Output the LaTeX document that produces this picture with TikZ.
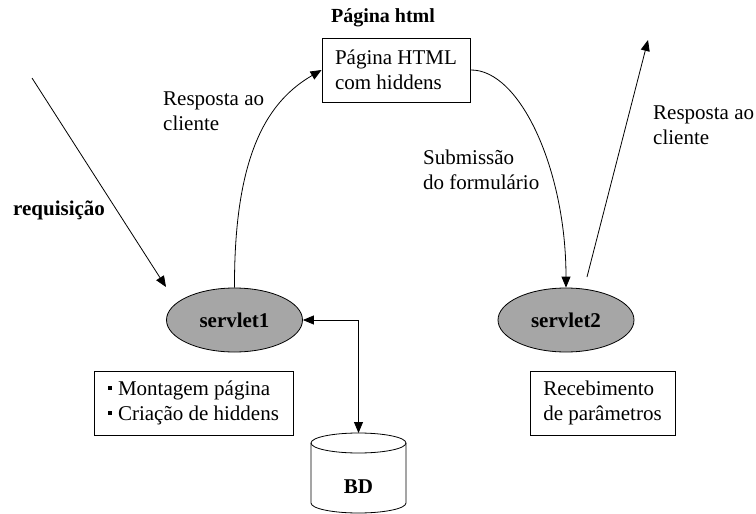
\documentclass[tikz,border=0pt]{standalone}
\usepackage{fontspec}
\setmainfont{Liberation Serif}
\usetikzlibrary{arrows.meta,shapes.geometric}
\definecolor{servgray}{RGB}{166,166,166}
\begin{document}
\begin{tikzpicture}[x=1pt,y=-1pt,
  every node/.style={font=\fontsize{21}{25}\selectfont},
  conn/.style={line width=0.8pt,-{Triangle[length=11pt,width=9pt]}},
  txt/.style={align=left,inner sep=0pt},
  boxnode/.style={draw,line width=0.9pt,align=left},
  servnode/.style={ellipse,draw,line width=0.8pt,fill=servgray,minimum width=136pt,minimum height=64pt,inner sep=0pt,font=\fontsize{21}{25}\selectfont\bfseries}]
\useasboundingbox (0,0) rectangle (756,514);

% title
\node[txt,font=\fontsize{20}{24}\selectfont\bfseries] (title) at (383,18) {Página html};

% html box
\node[boxnode,minimum width=148pt,minimum height=64pt] (html) at (396,70) {Página HTML\\com hiddens};

% servlets
\node[servnode] (s1) at (234.5,320) {servlet1};
\node[servnode] (s2) at (566,320) {servlet2};

% boxes under servlets
\node[boxnode,minimum width=199pt,minimum height=64pt,inner sep=0pt] (lbox) at (193.5,403)
  {\raisebox{0.28em}{\rule{4pt}{4pt}}\hspace{6pt}Montagem página\\\raisebox{0.28em}{\rule{4pt}{4pt}}\hspace{6pt}Criação de hiddens};
\node[boxnode,minimum width=145pt,minimum height=64pt,inner sep=0pt] (rbox) at (602.5,403) {Recebimento\\de parâmetros};

% database
\coordinate (bdtop) at (358.5,433);
\draw[line width=0.8pt,fill=white] (311,443) -- (311,503) arc[start angle=180,end angle=0,x radius=47.5,y radius=10] -- (406,443);
\draw[line width=0.8pt] (358.5,443) ellipse [x radius=47.5, y radius=10];
\node[txt,font=\fontsize{21}{25}\selectfont\bfseries] (bd) at (358.5,487) {BD};

% labels
\node[txt,anchor=west] (req) at (13,210) {\bfseries requisição};
\node[txt,anchor=west] (resp1) at (163,111.5) {Resposta ao\\cliente};
\node[txt,anchor=west] (subm) at (423,170) {Submissão\\do formulário};
\node[txt,anchor=west] (resp2) at (653,125) {Resposta ao\\cliente};

% connectors
\coordinate (reqstart) at (32,78);
\coordinate (reqend) at (166,287);
\draw[conn] (reqstart) -- (reqend);
\draw[conn] (s1.north) .. controls (234,150) and (270,100) .. (html.west);
\draw[conn] (html.east) .. controls (520,69) and (566,170) .. (s2.north);
\coordinate (r2start) at (587,277);
\coordinate (r2end) at (648,40);
\draw[conn] (r2start) -- (r2end);
\draw[line width=0.8pt,{Triangle[length=11pt,width=9pt]}-{Triangle[length=11pt,width=9pt]}] (s1.east) -| (bdtop);
\end{tikzpicture}
\end{document}
